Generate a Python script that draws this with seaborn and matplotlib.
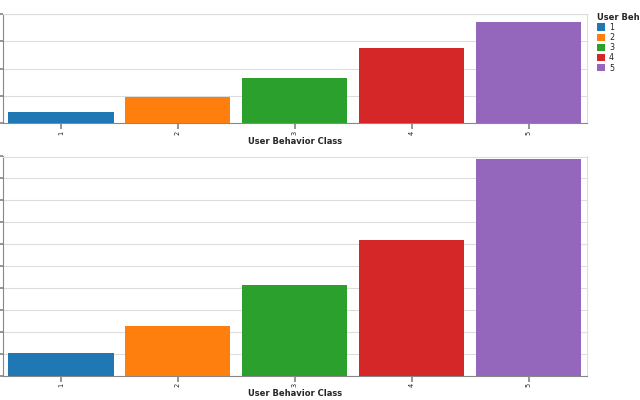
import matplotlib
matplotlib.use("Agg")
import matplotlib.pyplot as plt
import seaborn as sns
import pandas as pd

classes = ["1", "2", "3", "4", "5"]
data_usage = [207, 485, 837, 1380, 1845]
screen_on = [1.03, 2.25, 4.12, 6.18, 9.87]
colors = ["#1f77b4", "#ff7f0e", "#2ca02c", "#d62728", "#9467bd"]

df = pd.DataFrame({"User Behavior Class": classes,
                   "Data Usage": data_usage,
                   "Screen On Time": screen_on})

sns.set_theme(style="white")
plt.rcParams['font.family'] = ['DejaVu Sans']

fig = plt.figure(figsize=(6.4, 4.0), dpi=100)
W, H = 640, 400
def box(l, r, t, b):
    return [l / W, 1 - b / H, (r - l) / W, (b - t) / H]

ax1 = fig.add_axes(box(2.5, 587, 14, 123.3))
ax2 = fig.add_axes(box(2.5, 587, 156.5, 375.5))

palette = dict(zip(classes, colors))

specs = [(ax1, "Data Usage", 2000, 500), (ax2, "Screen On Time", 10, 1)]
for ax, col, ymax, step in specs:
    sns.barplot(data=df, x="User Behavior Class", y=col, hue="User Behavior Class",
                palette=palette, width=0.9, saturation=1, ax=ax,
                legend=(ax is ax1), zorder=3, linewidth=0)
    ax.set_xlim(-0.5, 4.5)
    ax.set_ylim(0, ymax)
    ax.set_yticks([i * step for i in range(int(ymax / step) + 1)])
    ax.grid(axis="y", color="#dddddd", linewidth=0.8, zorder=0)
    ax.set_axisbelow(True)
    for s in ["top", "right"]:
        ax.spines[s].set_color("#dddddd")
        ax.spines[s].set_linewidth(0.8)
    for s in ["bottom", "left"]:
        ax.spines[s].set_color("#888888")
        ax.spines[s].set_linewidth(0.8)
    ax.tick_params(axis="y", left=True, length=5, color="#888888", labelleft=False)
    ax.tick_params(axis="x", bottom=True, length=4, color="#888888",
                   labelsize=4.8, labelrotation=90, pad=1.5, labelcolor="#222222")
    ax.set_ylabel("")
    ax.set_xlabel("User Behavior Class", fontsize=6.0, fontweight="bold", labelpad=1)

sns.move_legend(ax1, loc="upper left", bbox_to_anchor=(597 / W, 1 - 12.5 / H),
                bbox_transform=fig.transFigure, frameon=False,
                title="User Behavior Class", fontsize=5.8, title_fontsize=6.0,
                handlelength=1.0, handleheight=1.0, handletextpad=0.5,
                labelspacing=0.15, borderaxespad=0, borderpad=0, alignment="left")
ax1.get_legend().get_title().set_fontweight("bold")

fig.savefig("out.png", dpi=100)
